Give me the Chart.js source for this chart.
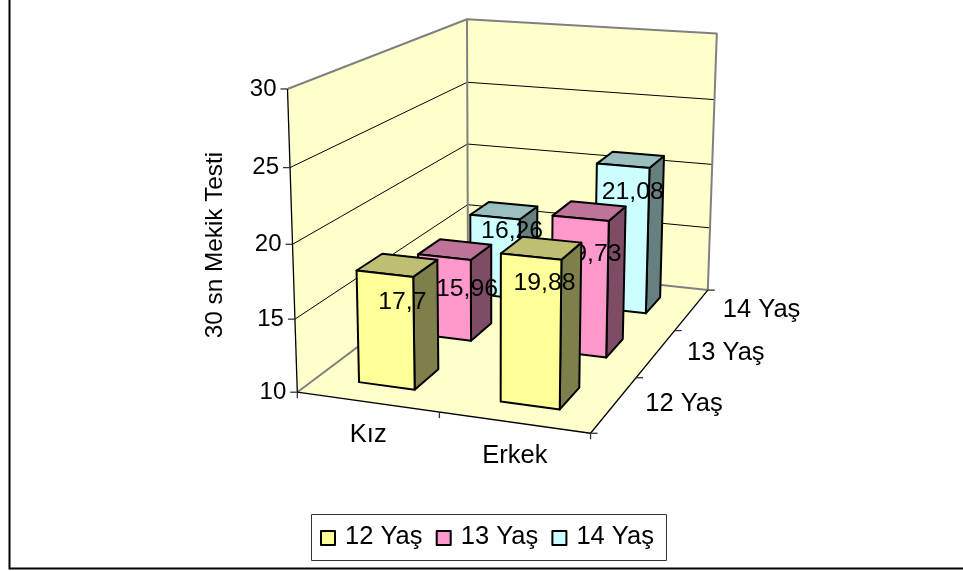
<!DOCTYPE html>
<html>
<head>
<meta charset="utf-8">
<title>30 sn Mekik Testi</title>
<script src="https://cdn.jsdelivr.net/npm/chart.js@4/dist/chart.umd.min.js"></script>
<style>
    html, body { margin: 0; padding: 0; background: #ffffff; }
    canvas { display: block; }
</style>
</head>
<body>
<canvas id="chart-mekik" width="963" height="571"></canvas>
<script>
var categories = ['Kız', 'Erkek'];
var seriesNames = ['12 Yaş', '13 Yaş', '14 Yaş'];
var values12 = [17.7, 19.88];
var values13 = [15.96, 19.73];
var values14 = [16.26, 21.08];
var valueTitle = '30 sn Mekik Testi';
var valueMin = 10;
var valueMax = 30;
var valueStep = 5;

var frontColors = ['#ffff99', '#ff99cc', '#ccffff'];
var topColors = ['#bfbf73', '#bf7399', '#99bfbf'];
var sideColors = ['#7f7f4c', '#7f4c66', '#667f7f'];
var wallColor = '#ffffcc';
var edgeGray = '#808080';
var FONT_FAMILY = '"Liberation Sans", Arial, sans-serif';

// bar footprint as a share of the axis length
var BAR_WIDTH = 0.2;
var BAR_DEPTH = 0.4 / 3;

// pixel shift of each value label from the centre of its bar top
var labelShift = [
    [[5, 37], [3, 35]],
    [[12, 40], [1, 43]],
    [[8, 21], [2, 32]]
];

// camera fit: box coordinates (x, depth, height) and where they land on the canvas
var cameraPoints = [
    [0, 0, 0, 297, 392.7],
    [1, 0, 0, 590.7, 432.7],
    [1, 1, 0, 708, 290.7],
    [0, 1, 0, 468, 263],
    [0, 0, 1, 287.7, 89],
    [0, 1, 1, 467, 19],
    [1, 1, 1, 716.7, 33],
    [0, 0, 0.5, 292.5, 244.3],
    [0, 1, 0.5, 467.5, 145],
    [1, 1, 0.5, 712, 164.7]
];

// least squares for the 11 terms of a projective camera
function solveCamera(points) {
    var n = 11;
    var A = [];
    var i, j, k;
    for (i = 0; i < n; i++) {
        A.push(new Array(n + 1).fill(0));
    }
    function addRow(row, rhs) {
        for (var r = 0; r < n; r++) {
            for (var c = 0; c < n; c++) {
                A[r][c] += row[r] * row[c];
            }
            A[r][n] += row[r] * rhs;
        }
    }
    points.forEach(function(p) {
        var x = p[0], d = p[1], h = p[2], u = p[3], v = p[4];
        addRow([x, d, h, 1, 0, 0, 0, 0, -u * x, -u * d, -u * h], u);
        addRow([0, 0, 0, 0, x, d, h, 1, -v * x, -v * d, -v * h], v);
    });
    for (i = 0; i < n; i++) {
        var pivot = i;
        for (j = i + 1; j < n; j++) {
            if (Math.abs(A[j][i]) > Math.abs(A[pivot][i])) {
                pivot = j;
            }
        }
        var tmp = A[i];
        A[i] = A[pivot];
        A[pivot] = tmp;
        for (j = 0; j < n; j++) {
            if (j !== i) {
                var f = A[j][i] / A[i][i];
                for (k = i; k <= n; k++) {
                    A[j][k] -= f * A[i][k];
                }
            }
        }
    }
    return A.map(function(row, r) {
        return row[n] / row[r];
    });
}

var cam = solveCamera(cameraPoints);

function project(x, d, h) {
    var w = cam[8] * x + cam[9] * d + cam[10] * h + 1;
    return [
        (cam[0] * x + cam[1] * d + cam[2] * h + cam[3]) / w,
        (cam[4] * x + cam[5] * d + cam[6] * h + cam[7]) / w
    ];
}

function polygon(ctx, pts, fill, stroke, width) {
    ctx.beginPath();
    pts.forEach(function(p, i) {
        if (i === 0) {
            ctx.moveTo(p[0], p[1]);
        } else {
            ctx.lineTo(p[0], p[1]);
        }
    });
    if (fill) {
        ctx.closePath();
        ctx.fillStyle = fill;
        ctx.fill();
    }
    if (stroke) {
        ctx.strokeStyle = stroke;
        ctx.lineWidth = width;
        ctx.lineJoin = 'round';
        ctx.stroke();
    }
}

function segment(ctx, a, b, color, width) {
    polygon(ctx, [a, b], null, color, width);
}

function decimalOf(scale, value) {
    return scale.getDecimalForPixel(scale.getPixelForValue(value));
}

function label(ctx, text, x, y, align, size) {
    ctx.font = size + 'px ' + FONT_FAMILY;
    ctx.fillStyle = '#000000';
    ctx.textAlign = align;
    ctx.textBaseline = 'middle';
    ctx.fillText(text, x, y);
}

function drawWalls(ctx, yScale) {
    polygon(ctx, [project(0, 0, 0), project(1, 0, 0), project(1, 1, 0), project(0, 1, 0)], wallColor);
    polygon(ctx, [project(0, 0, 0), project(0, 1, 0), project(0, 1, 1), project(0, 0, 1)], wallColor);
    polygon(ctx, [project(0, 1, 0), project(1, 1, 0), project(1, 1, 1), project(0, 1, 1)], wallColor);

    yScale.ticks.forEach(function(tick) {
        var h = decimalOf(yScale, tick.value);
        if (h > 0 && h < 1) {
            polygon(ctx, [project(0, 0, h), project(0, 1, h), project(1, 1, h)], null, '#000000', 1);
        }
    });

    polygon(ctx, [project(0, 0, 0), project(0, 1, 0), project(1, 1, 0)], null, edgeGray, 2);
    polygon(ctx, [project(0, 0, 1), project(0, 1, 1), project(1, 1, 1), project(1, 1, 0)], null, edgeGray, 2);
    segment(ctx, project(0, 1, 0), project(0, 1, 1), edgeGray, 2);
    polygon(ctx, [project(0, 0, 1), project(0, 0, 0), project(1, 0, 0), project(1, 1, 0)], null, '#000000', 1.3);
}

function drawAxes(ctx, xScale, yScale, depthScale) {
    yScale.ticks.forEach(function(tick) {
        var p = project(0, 0, decimalOf(yScale, tick.value));
        segment(ctx, p, [p[0] - 7, p[1]], '#333333', 1.3);
        label(ctx, String(tick.value), p[0] - 11, p[1], 'right', 24);
    });

    var i, p;
    for (i = 0; i <= categories.length; i++) {
        p = project(i / categories.length, 0, 0);
        segment(ctx, p, [p[0], p[1] + 6], '#333333', 1.3);
    }
    for (i = 0; i <= seriesNames.length; i++) {
        p = project(1, i / seriesNames.length, 0);
        segment(ctx, p, [p[0] + 7, p[1]], '#333333', 1.3);
    }

    categories.forEach(function(name, c) {
        var pos = project(decimalOf(xScale, c), 0, 0);
        label(ctx, name, pos[0] + 1, pos[1] + 33, 'center', 25.5);
    });
    seriesNames.forEach(function(name, s) {
        var pos = project(1, decimalOf(depthScale, s), 0);
        label(ctx, name, pos[0] + 31, pos[1], 'left', 25.5);
    });

    ctx.save();
    ctx.translate(215, 245);
    ctx.rotate(-Math.PI / 2);
    label(ctx, valueTitle, 0, 0, 'center', 24.3);
    ctx.restore();
}

function drawBar(ctx, chart, s, c) {
    var xScale = chart.scales.x;
    var yScale = chart.scales.y;
    var depthScale = chart.scales.depth;
    var value = chart.data.datasets[s].data[c];
    var cx = decimalOf(xScale, c);
    var cd = decimalOf(depthScale, s);
    var h = decimalOf(yScale, value);
    var x0 = cx - BAR_WIDTH / 2, x1 = cx + BAR_WIDTH / 2;
    var d0 = cd - BAR_DEPTH / 2, d1 = cd + BAR_DEPTH / 2;

    polygon(ctx, [project(x1, d0, 0), project(x1, d1, 0), project(x1, d1, h), project(x1, d0, h)], sideColors[s], '#000000', 2);
    polygon(ctx, [project(x0, d0, h), project(x1, d0, h), project(x1, d1, h), project(x0, d1, h)], topColors[s], '#000000', 2);
    polygon(ctx, [project(x0, d0, 0), project(x1, d0, 0), project(x1, d0, h), project(x0, d0, h)], frontColors[s], '#000000', 2);

    var top = project(cx, cd, h);
    var shift = labelShift[s][c];
    label(ctx, String(value).replace('.', ','), top[0] + shift[0], top[1] + shift[1], 'center', 24.8);
}

function drawLegend(ctx) {
    ctx.strokeStyle = '#333333';
    ctx.lineWidth = 1;
    ctx.strokeRect(311.5, 514.5, 355, 46);
    seriesNames.forEach(function(name, s) {
        var left = 321 + s * 115.7;
        ctx.fillStyle = frontColors[s];
        ctx.fillRect(left, 531, 14, 14);
        ctx.strokeStyle = '#000000';
        ctx.lineWidth = 2;
        ctx.strokeRect(left, 531, 14, 14);
        label(ctx, name, left + 24, 537, 'left', 25.5);
    });
}

function drawFrame(ctx) {
    ctx.strokeStyle = '#000000';
    ctx.lineWidth = 2;
    ctx.beginPath();
    ctx.moveTo(9.5, 0);
    ctx.lineTo(9.5, 568.5);
    ctx.lineTo(963, 568.5);
    ctx.stroke();
}

// the native flat bars are skipped, everything goes through the box projection
var box3d = {
    id: 'box3d',
    beforeDatasetsDraw: function(chart) {
        var ctx = chart.ctx;
        ctx.save();
        drawFrame(ctx);
        drawWalls(ctx, chart.scales.y);
        drawAxes(ctx, chart.scales.x, chart.scales.y, chart.scales.depth);
        for (var s = seriesNames.length - 1; s >= 0; s--) {
            for (var c = 0; c < categories.length; c++) {
                drawBar(ctx, chart, s, c);
            }
        }
        drawLegend(ctx);
        ctx.restore();
        return false;
    }
};

var chart = new Chart(document.getElementById('chart-mekik').getContext('2d'), {
    type: 'bar',
    data: {
        labels: categories,
        datasets: [
            { label: seriesNames[0], data: values12, backgroundColor: frontColors[0] },
            { label: seriesNames[1], data: values13, backgroundColor: frontColors[1] },
            { label: seriesNames[2], data: values14, backgroundColor: frontColors[2] }
        ]
    },
    options: {
        responsive: false,
        animation: false,
        plugins: {
            legend: { display: false },
            title: { display: false },
            tooltip: { enabled: false }
        },
        scales: {
            x: { display: false },
            y: { display: false, min: valueMin, max: valueMax, ticks: { stepSize: valueStep } },
            depth: { type: 'category', axis: 'x', display: false, offset: true, labels: seriesNames }
        }
    },
    plugins: [box3d]
});
</script>
</body>
</html>
